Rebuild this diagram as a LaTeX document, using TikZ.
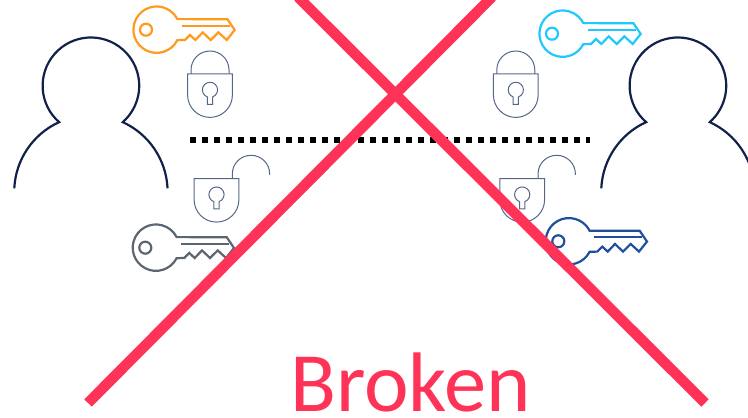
\documentclass[tikz,border=0pt]{standalone}
\usepackage{fontspec}
\setmainfont{Carlito}
\definecolor{crossred}{HTML}{FF3358}
\definecolor{personnavy}{HTML}{12214A}
\definecolor{locknavy}{HTML}{56658A}
\definecolor{keyorange}{HTML}{FF9A1F}
\definecolor{keycyan}{HTML}{1FC8FF}
\definecolor{keygrey}{HTML}{5B6670}
\definecolor{keyblue}{HTML}{1F4F9C}
\tikzset{
  pics/person/.style={code={
    \draw[personnavy, line width=2.2pt] (-76.7,-102.6) arc[start angle=177.3, end angle=114.5, radius=76.7]
      arc[start angle=228.8, end angle=-48.8, radius=48.3]
      arc[start angle=65.5, end angle=2.7, radius=76.7];
  }},
  pics/keyicon/.style={code={
    \draw[#1, line width=2.2pt, line join=miter] (20.6,-10.5) arc[start angle=-27, end angle=-333, radius=23.2]
      -- (70.7,10.5) -- (78,-0.3) -- (70,-10.3) -- (61.7,-2.7) -- (54,-10.3) -- (46,-2.7)
      -- (38.7,-10.3) -- (33.3,-5.3) -- (28.3,-10.3) -- cycle;
    \draw[#1, line width=2.2pt] (25,4) -- (73.3,4);
    \draw[#1, line width=2.2pt] (-10.7,0) circle (6);
  }},
  pics/lockbody/.style={code={
    \draw[locknavy, line width=1pt] (-22.4,0) -- (22.4,0) -- (22.4,-21) arc[start angle=0, end angle=-180, radius=22.4] -- cycle;
    \draw[locknavy, line width=1pt] (-2.6,-30.3) -- (-2.6,-23) arc[start angle=250, end angle=-70, radius=7.6] -- (2.6,-30.3) -- cycle;
  }},
  pics/lockclosed/.style={code={
    \pic {lockbody};
    \draw[locknavy, line width=1pt] (-19,0) -- (-19,4) arc[start angle=180, end angle=0, radius=19] -- (19,0);
  }},
  pics/lockopen/.style={code={
    \pic {lockbody};
    \draw[locknavy, line width=1pt] (15.8,0) -- (15.8,4.7) arc[start angle=180, end angle=0, radius=18.7] -- ++(0,-1);
  }},
}
\begin{document}
\begin{tikzpicture}[x=1pt,y=1pt]
\useasboundingbox (0,0) rectangle (748,418);
\clip (0,0) rectangle (748,418);

\pic at (91,332.3) {person};
\pic at (678,332.3) {person};

\pic at (156.7,388.3) {keyicon=keyorange};
\pic at (562.7,384.3) {keyicon=keycyan};
\pic at (156,170.3) {keyicon=keygrey};
\pic at (569,176.7) {keyicon=keyblue};

\pic at (210,344) {lockclosed};
\pic at (515.8,344) {lockclosed};
\pic at (216.5,239.3) {lockopen};
\pic at (522.2,239.3) {lockopen};

\coordinate (dotsa) at (190,278);
\coordinate (dotsb) at (590,278);
\draw[black, line width=6pt, dash pattern=on 6pt off 6pt] (dotsa) -- (dotsb);

\node[text=crossred, font=\fontsize{84.5}{84.5}\selectfont, inner sep=0pt, anchor=base] (broken) at (410.5,6.8) {Broken};

\coordinate (crossa) at (88,15);
\coordinate (crossb) at (492,421);
\coordinate (crossc) at (705,15);
\coordinate (crossd) at (298,421);
\draw[crossred, line width=10.5pt] (crossa) -- (crossb);
\draw[crossred, line width=10.5pt] (crossc) -- (crossd);
\end{tikzpicture}
\end{document}
